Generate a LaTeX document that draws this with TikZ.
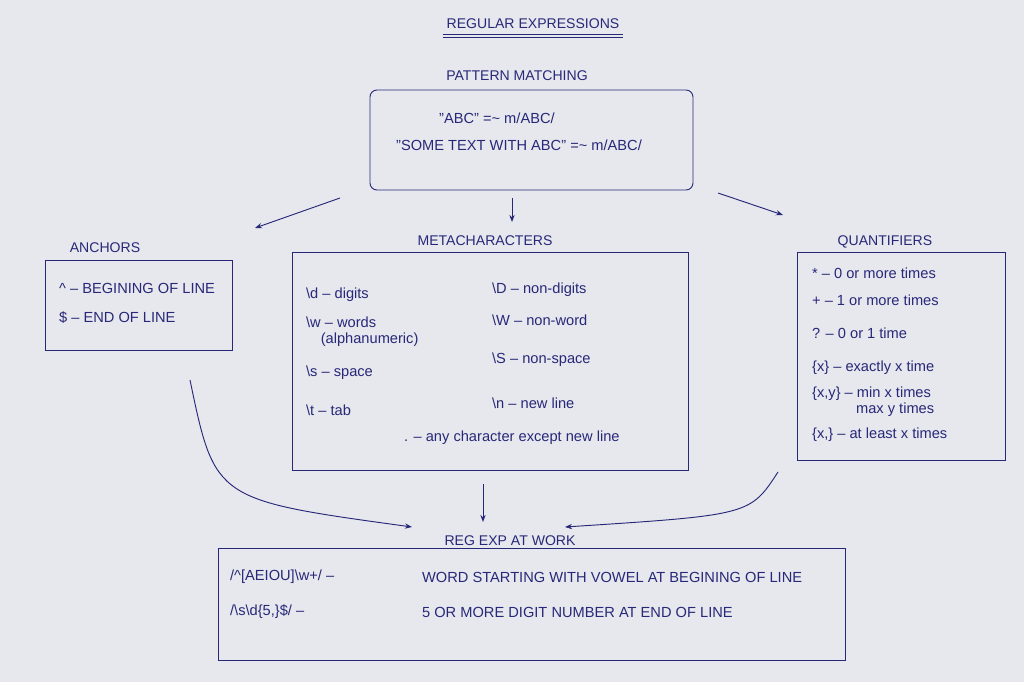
\documentclass[tikz,border=0pt]{standalone}
\usepackage{fontspec}
\setmainfont{Liberation Sans}
\usetikzlibrary{arrows.meta}
\definecolor{ink}{RGB}{40,40,120}
\definecolor{paper}{RGB}{230,232,238}
\tikzset{
  box/.style={draw=ink, thick},
  head/.style={text=ink, font=\fontsize{12}{14}\selectfont},
  entry/.style={text=ink, font=\fontsize{12.5}{14}\selectfont, anchor=west},
  link/.style={draw=ink, thick, -{Stealth[length=6pt]}}
}
\begin{document}
\begin{tikzpicture}[x=0.03cm,y=-0.03cm]
\fill[paper] (0,0) rectangle (1024,682);
\useasboundingbox (0,0) rectangle (1024,682);

% titles
\node[head] (title) at (533,24) {REGULAR EXPRESSIONS};
\draw[ink, thick] ([yshift=-1pt]title.south west) -- ([yshift=-1pt]title.south east);
\draw[ink, thick] ([yshift=-4pt]title.south west) -- ([yshift=-4pt]title.south east);
\node[head] (pmt) at (517,76) {PATTERN MATCHING};
\node[head] (ant) at (105,248) {ANCHORS};
\node[head] (mct) at (485,241) {METACHARACTERS};
\node[head] (qnt) at (885,242) {QUANTIFIERS};
\node[head] (ret) at (510,541) {REG EXP AT WORK};

% boxes
\draw[box, rounded corners=6pt] (370,90) rectangle (693,190);
\draw[box] (45,260) rectangle (232,350);
\draw[box] (292,252) rectangle (688,470);
\draw[box] (797,252) rectangle (1005,460);
\draw[box] (218,548) rectangle (845,660);

% pattern matching
\node[entry] (p1) at (435,118) {"ABC" =\textasciitilde{} m/ABC/};
\node[entry] (p2) at (392,145) {"SOME TEXT WITH ABC" =\textasciitilde{} m/ABC/};

% anchors
\node[entry] (a1) at (55,288) {\textasciicircum{} -- BEGINING OF LINE};
\node[entry] (a2) at (55,318) {\$ -- END OF LINE};

% metacharacters
\node[entry] (m1) at (302,295) {\textbackslash d -- digits};
\node[entry] (m2) at (488,290) {\textbackslash D -- non-digits};
\node[entry, align=left] (m3) at (302,332) {\textbackslash w -- words\\ \quad(alphanumeric)};
\node[entry] (m4) at (488,320) {\textbackslash W -- non-word};
\node[entry] (m5) at (302,373) {\textbackslash s -- space};
\node[entry] (m6) at (488,360) {\textbackslash S -- non-space};
\node[entry] (m7) at (302,410) {\textbackslash t -- tab};
\node[entry] (m8) at (488,403) {\textbackslash n -- new line};
\node[entry] (m9) at (400,438) {. -- any character except new line};

% quantifiers
\node[entry] (q1) at (808,273) {* -- 0 or more times};
\node[entry] (q2) at (808,300) {+ -- 1 or more times};
\node[entry] (q3) at (808,333) {? -- 0 or 1 time};
\node[entry] (q4) at (808,368) {\{x\} -- exactly x time};
\node[entry, align=left] (q5) at (808,402) {\{x,y\} -- min x times\\ \qquad\quad max y times};
\node[entry] (q6) at (808,435) {\{x,\} -- at least x times};

% reg exp at work
\node[entry] (r1) at (226,577) {/\textasciicircum[AEIOU]\textbackslash w+/ --};
\node[entry] (r1t) at (418,577) {WORD STARTING WITH VOWEL AT BEGINING OF LINE};
\node[entry] (r2) at (226,612) {/\textbackslash s\textbackslash d\{5,\}\$/ --};
\node[entry] (r2t) at (418,612) {5 OR MORE DIGIT NUMBER AT END OF LINE};

% arrows
\coordinate (s1) at (340,198); \coordinate (e1) at (255,228);
\coordinate (s2) at (512,198); \coordinate (e2) at (512,222);
\coordinate (s3) at (718,193); \coordinate (e3) at (783,215);
\coordinate (s4) at (190,380); \coordinate (e4) at (412,527);
\coordinate (s5) at (483,484); \coordinate (e5) at (483,522);
\coordinate (s6) at (778,472); \coordinate (e6) at (565,527);
\draw[link] (s1) -- (e1);
\draw[link] (s2) -- (e2);
\draw[link] (s3) -- (e3);
\draw[link] (s4) .. controls (215,500) .. (e4);
\draw[link] (s5) -- (e5);
\draw[link] (s6) .. controls (750,515) .. (e6);
\end{tikzpicture}
\end{document}
